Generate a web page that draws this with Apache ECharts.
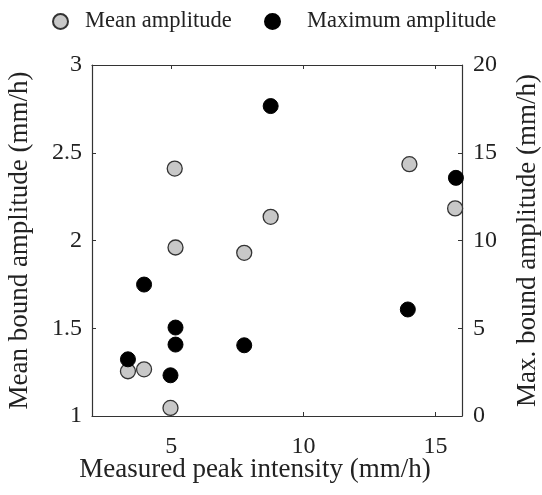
<!DOCTYPE html>
<html><head><meta charset="utf-8">
<script src="https://cdn.jsdelivr.net/npm/echarts@6/dist/echarts.min.js"></script>
<style>html,body{margin:0;padding:0;background:#fff}#c{width:542px;height:495px}</style>
</head><body><div id="c"></div>
<script>
var meanX = [5.13, 8.76, 5.16, 7.76, 3.36, 3.97, 4.97, 14.01, 15.74];
var meanY = [2.41, 2.135, 1.96, 1.93, 1.255, 1.266, 1.046, 2.435, 2.183];
var maxX = [8.76, 3.97, 5.16, 5.16, 7.76, 3.36, 4.97, 13.95, 15.77];
var maxY = [17.66, 7.49, 5.04, 4.07, 4.03, 3.23, 2.32, 6.07, 13.57];
var xTicks = [5, 10, 15];
var font = 'Liberation Serif';
function pairs(a, b) { return a.map(function (v, i) { return [v, b[i]]; }); }
var chart = echarts.init(document.getElementById('c'), null, {renderer: 'canvas'});
var axisLine = {show: true, lineStyle: {color: '#333', width: 1.2}};
var tick = {show: true, inside: true, length: 4, lineStyle: {color: '#333', width: 1}};
function legendAt(left, name, pad) {
  return {
    left: left, top: 5, itemWidth: 15, itemHeight: 15, icon: 'circle',
    textStyle: {fontFamily: font, fontSize: 22.5, color: '#222', padding: [0, 0, 0, pad]},
    data: [name]
  };
}
chart.setOption({
  animation: false,
  backgroundColor: '#fff',
  legend: [legendAt(47, 'Mean amplitude', 12), legendAt(259, 'Maximum amplitude', 22)],
  grid: {left: 92, right: 80, top: 65, bottom: 79, containLabel: false, outerBoundsMode: 'none'},
  xAxis: [{
    type: 'value', min: 2, max: 16, position: 'bottom',
    name: 'Measured peak intensity (mm/h)', nameLocation: 'middle', nameGap: 40, nameMoveOverlap: false,
    nameTextStyle: {fontFamily: font, fontSize: 27, color: '#222', padding: [0, 44, 0, 0]},
    axisLine: axisLine,
    axisTick: Object.assign({customValues: xTicks}, tick),
    axisLabel: {customValues: xTicks, fontFamily: font, fontSize: 24, color: '#222', margin: 19},
    splitLine: {show: false}
  }, {
    type: 'value', min: 2, max: 16, position: 'top',
    axisLine: axisLine,
    axisTick: Object.assign({customValues: xTicks}, tick),
    axisLabel: {show: false},
    splitLine: {show: false}
  }],
  yAxis: [{
    type: 'value', min: 1, max: 3, interval: 0.5, position: 'left',
    name: 'Mean bound amplitude (mm/h)', nameLocation: 'middle', nameGap: 59, nameMoveOverlap: false,
    nameTextStyle: {fontFamily: font, fontSize: 27, color: '#222'},
    axisLine: axisLine, axisTick: tick,
    axisLabel: {fontFamily: font, fontSize: 24, color: '#222', margin: 10},
    splitLine: {show: false}
  }, {
    type: 'value', min: 0, max: 20, interval: 5, position: 'right',
    name: 'Max. bound amplitude (mm/h)', nameLocation: 'middle', nameGap: 52, nameRotate: 90, nameMoveOverlap: false,
    nameTextStyle: {fontFamily: font, fontSize: 27, color: '#222'},
    axisLine: axisLine, axisTick: tick,
    axisLabel: {fontFamily: font, fontSize: 24, color: '#222', margin: 11},
    splitLine: {show: false}
  }],
  series: [{
    name: 'Mean amplitude', type: 'scatter', xAxisIndex: 0, yAxisIndex: 0,
    symbolSize: 15,
    itemStyle: {color: '#c8c8c8', borderColor: '#333', borderWidth: 1.3, opacity: 1},
    data: pairs(meanX, meanY)
  }, {
    name: 'Maximum amplitude', type: 'scatter', xAxisIndex: 0, yAxisIndex: 1,
    symbolSize: 15,
    itemStyle: {color: '#000', borderColor: '#000', borderWidth: 1, opacity: 1},
    data: pairs(maxX, maxY)
  }]
});
</script></body></html>
